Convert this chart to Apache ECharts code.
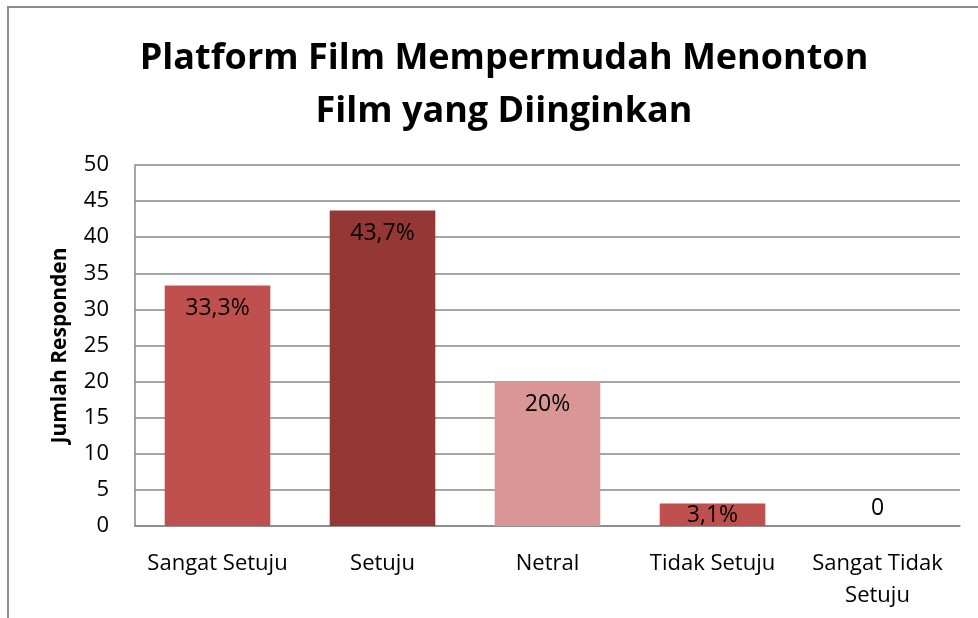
<!DOCTYPE html>
<html>
<head>
<meta charset="utf-8">
<script src="https://cdn.jsdelivr.net/npm/echarts@6/dist/echarts.min.js"></script>
<style>
  html, body { margin: 0; padding: 0; background: #fff; }
  #chart { width: 978px; height: 618px; }
</style>
</head>
<body>
<div id="chart"></div>
<script>
// data
var categories = ['Sangat Setuju', 'Setuju', 'Netral', 'Tidak Setuju', 'Sangat Tidak\nSetuju'];
var values = [33.3, 43.7, 20, 3.1, 0];
var labels = ['33,3%', '43,7%', '20%', '3,1%', '0'];
var barColors = ['#c0504d', '#953735', '#d99694', '#c0504d', '#c0504d'];

var font = 'Open Sans';

var chart = echarts.init(document.getElementById('chart'));

var seriesData = [];
for (var i = 0; i < values.length; i++) {
  var item = {
    value: values[i],
    itemStyle: { color: barColors[i] },
    label: { formatter: labels[i] }
  };
  if (values[i] === 0) {
    item.label.position = 'top';
    item.label.distance = 6;
  } else if (values[i] < 5) {
    item.label.distance = 0;
  }
  seriesData.push(item);
}

var option = {
  animation: false,
  textStyle: { fontFamily: font },
  title: {
    text: 'Platform Film Mempermudah Menonton\nFilm yang Diinginkan',
    left: 499,
    textAlign: 'center',
    top: 27,
    textStyle: {
      fontFamily: font,
      fontSize: 36,
      fontWeight: 'bold',
      color: '#000',
      lineHeight: 53
    }
  },
  graphic: [
    {
      type: 'polyline',
      shape: { points: [[8, 640], [8, 7], [990, 7]] },
      style: { stroke: '#8c8c8c', lineWidth: 2, fill: null },
      silent: true
    }
  ],
  grid: {
    left: 135,
    right: 18,
    top: 165,
    bottom: 92
  },
  xAxis: {
    type: 'category',
    data: categories,
    axisLine: { lineStyle: { color: '#888', width: 1.5 } },
    axisTick: { show: false },
    axisLabel: {
      interval: 0,
      color: '#000',
      fontSize: 22,
      margin: 22,
      lineHeight: 32
    }
  },
  yAxis: {
    type: 'value',
    min: 0,
    max: 50,
    interval: 5,
    name: 'Jumlah Responden',
    nameLocation: 'middle',
    nameGap: 64,
    nameTextStyle: {
      fontSize: 21,
      fontWeight: 'bold',
      color: '#000'
    },
    axisLine: { show: true, lineStyle: { color: '#888', width: 1.5 } },
    axisTick: { show: false },
    axisLabel: {
      color: '#000',
      fontSize: 22,
      margin: 26
    },
    splitLine: { lineStyle: { color: '#888', width: 1.5 } }
  },
  series: [
    {
      type: 'bar',
      data: seriesData,
      barWidth: '64%',
      label: {
        show: true,
        position: 'insideTop',
        distance: 11,
        fontSize: 23,
        color: '#000',
        fontFamily: font
      }
    }
  ]
};

chart.setOption(option);
</script>
</body>
</html>
